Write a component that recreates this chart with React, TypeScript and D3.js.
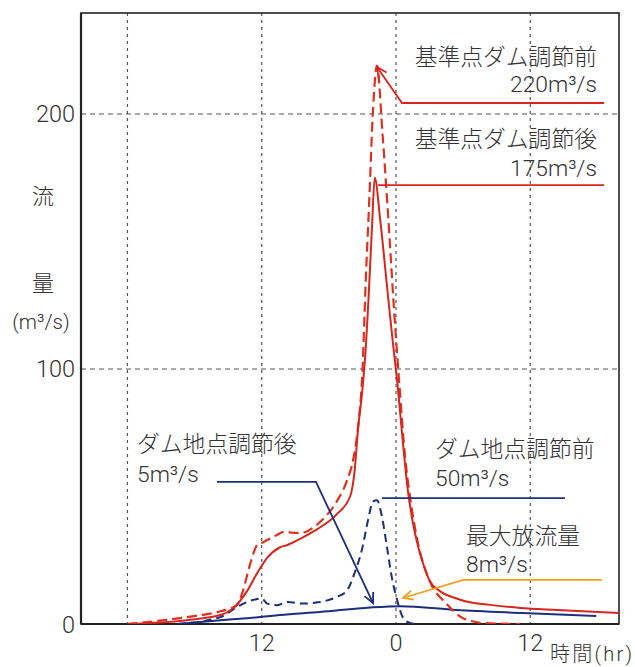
import React from "react";
import * as d3 from "d3";

// time in hours relative to peak (negative = before), flow in m3/s
const redBeforeT = [-24, -18.7, -15.7, -14.2, -13.75, -13.0, -12.4, -11.9, -10.6, -10.1, -8.6, -6.8, -5.3, -4.4, -3.8, -3.4, -3.0, -2.7, -2.4, -2.05, -1.7, -1.2, -0.7, -0.2, 0.3, 0.8, 1.25, 1.9, 3.0, 4.5, 6.0, 7.8, 11.1];
const redBeforeV = [0, 2.7, 5, 7.4, 12, 24, 31, 32, 35, 36, 35.6, 40, 48, 56, 65, 77, 99, 135, 165, 202, 219, 192, 160, 125, 94, 66, 50, 33, 17, 8, 2.3, 0.4, 0];

const redAfterT = [-24, -18.7, -15.7, -14.6, -13.3, -12.4, -11.5, -10.4, -9.7, -8.3, -7.1, -5.3, -4.1, -3.7, -3.4, -3.0, -2.75, -2.45, -2.15, -1.9, -1.4, -0.7, -0.27, 0.18, 0.6, 1.07, 1.5, 2.0, 2.4, 3.0, 3.9, 5.4, 6.6, 8.4, 11.1, 14.4, 20];
const redAfterV = [0, 1.5, 3.5, 6, 13, 20, 26, 30, 31, 34, 37, 43, 50, 60, 76, 92, 105, 128, 155, 175, 158, 128, 110, 92, 72, 52, 40, 30, 24, 17, 13, 10, 8.5, 7.5, 6.3, 5.5, 4.3];

const damBeforeT = [-19.5, -15.7, -14.2, -12.8, -12.0, -11.5, -10.6, -9.7, -8.3, -6.8, -5.3, -4.4, -3.7, -3.0, -2.5, -2.05, -1.7, -1.25, -0.8, -0.36, 0.1, 0.6, 1.25, 1.9];
const damBeforeV = [0, 2.7, 6.7, 9.4, 10, 8, 7.4, 8.6, 8, 8.6, 10.6, 13, 20, 30, 40.7, 48, 48.5, 42, 30, 18, 9.4, 2.7, 0.4, 0];

const damAfterT = [-19.5, -15.7, -12.1, -10.4, -6.8, -2.3, 0.4, 5.4, 11.3, 17.9];
const damAfterV = [0, 1.5, 2.7, 3.5, 4.7, 6.5, 7, 5.5, 4.3, 3.1];

const xGrid = [-24, -12, 0, 12];
const xTickVals = [-12, 0, 12];
const xTickLabels = ["12", "0", "12"];
const yTickVals = [0, 100, 200];
const yGrid = [100, 200];

const W = 635;
const H = 667;
const L = 81, R = 619, T = 13, B = 624;

const FONT = "Roboto, 'Noto Sans CJK JP', 'Noto Sans', sans-serif";
const TXT = "#333";
const RED = "#d8261d";
const RED2 = "#e0301f";
const BLUE = "#1c2f7c";
const ORANGE = "#f0a01e";

export default function App() {
  const x = d3.scaleLinear().domain([-28.15, 19.93]).range([L, R]);
  const y = d3.scaleLinear().domain([0, 239.6]).range([B, T]);

  const line = (ts: number[], vs: number[]) =>
    d3
      .line<number>()
      .x((_, i) => x(ts[i]))
      .y((v) => y(v))
      .curve(d3.curveMonotoneX)(vs) as string;

  const arrow = (tx: number, ty: number, fx: number, fy: number, len = 11, ang = 0.45) => {
    const a = Math.atan2(fy - ty, fx - tx);
    const p1 = [tx + len * Math.cos(a + ang), ty + len * Math.sin(a + ang)];
    const p2 = [tx + len * Math.cos(a - ang), ty + len * Math.sin(a - ang)];
    return `M${p1[0]},${p1[1]}L${tx},${ty}L${p2[0]},${p2[1]}`;
  };

  // annotation anchors (data units)
  const a1 = { tip: [x(-1.7), y(218.4)], elbow: [x(0.54), y(204.3)], end: x(18.6) };
  const a2 = { start: [x(-1.6), y(172.1)], end: x(18.6) };
  const a3 = { start: [x(-16.0), y(55.7)], elbow: [x(-7.15), y(55.7)], tip: [x(-2.05), y(8.2)] };
  const a4 = { start: [x(-1.25), y(49.4)], end: x(15.1) };
  const a5 = { start: [x(18.4), y(17.3)], elbow: [x(6.0), y(17.3)], tip: [x(0.63), y(10.2)] };

  const fs = 23.5;
  const afs = 22.8;

  return (
    <svg
      width={W}
      height={H}
      style={{ position: "absolute", left: 0, top: 0, background: "#fff" }}
      fontFamily={FONT}
      fontWeight={300}
    >
      <rect x={0} y={0} width={W} height={H} fill="#fff" />
      <defs>
        <clipPath id="plot">
          <rect x={L} y={T} width={R - L} height={B - T} />
        </clipPath>
      </defs>

      {/* grid */}
      {xGrid.map((g) => (
        <line key={"xg" + g} x1={x(g)} x2={x(g)} y1={T} y2={B} stroke="#555" strokeWidth={1.2} strokeDasharray="3,4" />
      ))}
      {yGrid.map((g) => (
        <line key={"yg" + g} x1={L} x2={R} y1={y(g)} y2={y(g)} stroke="#555" strokeWidth={1.2} strokeDasharray="5,4" />
      ))}

      {/* frame */}
      <rect x={L} y={T} width={R - L} height={B - T} fill="none" stroke="#222" strokeWidth={1.6} />
      <line x1={L} x2={L} y1={T} y2={B} stroke="#222" strokeWidth={2.2} />
      <line x1={L} x2={R} y1={B} y2={B} stroke="#222" strokeWidth={2.2} />

      {/* series */}
      <g clipPath="url(#plot)" fill="none" strokeLinejoin="round">
        <path d={line(damAfterT, damAfterV)} stroke={BLUE} strokeWidth={2} />
        <path d={line(damBeforeT, damBeforeV)} stroke={BLUE} strokeWidth={2} strokeDasharray="8,5" />
        <path d={line(redBeforeT, redBeforeV)} stroke={RED2} strokeWidth={2.2} strokeDasharray="10,5" />
        <path d={line(redAfterT, redAfterV)} stroke={RED} strokeWidth={2} />
      </g>

      {/* y ticks */}
      {yTickVals.map((v) => (
        <text key={"yt" + v} x={75} y={y(v) + 8.5} textAnchor="end" fontSize={fs} fill={TXT}>
          {v}
        </text>
      ))}
      {/* x ticks */}
      {xTickVals.map((v, i) => (
        <text key={"xt" + v} x={x(v)} y={651} textAnchor="middle" fontSize={fs} fill={TXT}>
          {xTickLabels[i]}
        </text>
      ))}
      <text x={550} y={661} fontSize={20} fill={TXT} textLength={82} lengthAdjust="spacing">
        時間(hr)
      </text>

      {/* y axis title */}
      <text x={43} y={204} textAnchor="middle" fontSize={22} fill={TXT}>流</text>
      <text x={43} y={291} textAnchor="middle" fontSize={22} fill={TXT}>量</text>
      <text x={41} y={329} textAnchor="middle" fontSize={20.5} fill={TXT}>(m³/s)</text>

      {/* annotations */}
      <g fill="none" strokeWidth={1.8}>
        <path d={`M${a1.tip[0]},${a1.tip[1]}L${a1.elbow[0]},${a1.elbow[1]}L${a1.end},${a1.elbow[1]}`} stroke={RED} />
        <path d={arrow(a1.tip[0], a1.tip[1], a1.elbow[0], a1.elbow[1])} stroke={RED} />
        <path d={`M${a2.start[0]},${a2.start[1]}L${a2.end},${a2.start[1]}`} stroke={RED} />
        <path d={`M${a3.start[0]},${a3.start[1]}L${a3.elbow[0]},${a3.elbow[1]}L${a3.tip[0]},${a3.tip[1]}`} stroke={BLUE} />
        <path d={arrow(a3.tip[0], a3.tip[1], a3.elbow[0], a3.elbow[1])} stroke={BLUE} />
        <path d={`M${a4.start[0]},${a4.start[1]}L${a4.end},${a4.start[1]}`} stroke={BLUE} />
        <path d={`M${a5.start[0]},${a5.start[1]}L${a5.elbow[0]},${a5.elbow[1]}L${a5.tip[0]},${a5.tip[1]}`} stroke={ORANGE} />
        <path d={arrow(a5.tip[0], a5.tip[1], a5.elbow[0], a5.elbow[1])} stroke={ORANGE} />
      </g>

      <g fontSize={afs} fill={TXT}>
        <text x={597} y={65} textAnchor="end">基準点ダム調節前</text>
        <text x={597} y={92} textAnchor="end">220m³/s</text>
        <text x={597} y={147} textAnchor="end">基準点ダム調節後</text>
        <text x={597} y={176} textAnchor="end">175m³/s</text>
        <text x={137} y={452}>ダム地点調節後</text>
        <text x={137} y={482}>5m³/s</text>
        <text x={435} y={457}>ダム地点調節前</text>
        <text x={435} y={486}>50m³/s</text>
        <text x={466} y={544}>最大放流量</text>
        <text x={466} y={572}>8m³/s</text>
      </g>
    </svg>
  );
}
